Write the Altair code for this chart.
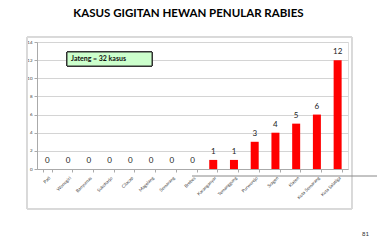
import altair as alt
import pandas as pd

categories = ["Pati", "Wonogiri", "Banyumas", "Sukoharjo", "Cilacap", "Magelang",
              "Semarang", "Brebes", "Karanganyar", "Temanggung", "Purworejo",
              "Sragen", "Klaten", "Kota Semarang", "Kota Salatiga"]
values = [0, 0, 0, 0, 0, 0, 0, 0, 1, 1, 3, 4, 5, 6, 12]
y_ticks = [0, 2, 4, 6, 8, 10, 12, 14]
title_text = "KASUS GIGITAN HEWAN PENULAR RABIES"
box_text = "Jateng = 32 kasus"
page_number = "81"

df = pd.DataFrame({"kab": categories, "kasus": values})
FONT = "Lato"

xscale = alt.Scale(paddingInner=0.6, paddingOuter=0.3)
yscale = alt.Scale(domain=[0, 14], nice=False, zero=True)

xaxis = alt.Axis(labelAngle=-45, labelFontSize=4.5, labelColor="#444",
                 labelFont=FONT, tickBand="extent", tickSize=3,
                 tickColor="#aaa", domainColor="#aaa", labelPadding=3,
                 labelOverlap=False)
yaxis = alt.Axis(values=y_ticks, tickCount=8, labelFontSize=4.5,
                 labelColor="#444", labelFont=FONT, tickSize=3,
                 tickColor="#aaa", domainColor="#aaa",
                 gridColor="#d4d4d4", labelPadding=2,
                 labelOverlap=False, labelBound=False)

xenc = alt.X("kab:N", sort=categories, title=None, scale=xscale, axis=xaxis)
yenc = alt.Y("kasus:Q", title=None, scale=yscale, axis=yaxis)

base = alt.Chart(df)

frame = base.mark_rect(fillOpacity=0, stroke="#d9d9d9", strokeWidth=1).encode(
    x=alt.value(-10), x2=alt.value(315), y=alt.value(-5), y2=alt.value(167))

bars = base.mark_bar(color="#ff0000", size=8).encode(x=xenc, y=yenc)

labels = base.mark_text(dy=-4, fontSize=8, font=FONT, color="#222",
                        baseline="bottom").encode(
    x=xenc, y=yenc, text=alt.Text("kasus:Q"))

box = base.mark_rect(fill="#ccffcc", stroke="#333333", strokeWidth=1).encode(
    x=alt.value(30), x2=alt.value(115), y=alt.value(10), y2=alt.value(24))

box_label = alt.Chart(pd.DataFrame({"t": [box_text]})).mark_text(
    fontSize=7, fontWeight="bold", font=FONT, align="left", baseline="middle",
    color="#111").encode(x=alt.value(34), y=alt.value(17), text="t:N")

stray = alt.Chart(pd.DataFrame({"a": [0]})).mark_rule(color="#888", strokeWidth=1).encode(
    x=alt.value(155), x2=alt.value(345), y=alt.value(134))

page = alt.Chart(pd.DataFrame({"t": [page_number]})).mark_text(
    fontSize=6, font=FONT, color="#333", align="left", baseline="middle").encode(
    x=alt.value(325), y=alt.value(192), text="t:N")

chart = alt.layer(frame, bars, labels, box, box_label, stray, page).properties(
    width=311, height=127,
    title=alt.TitleParams(title_text, fontSize=11.5, font=FONT, fontWeight="bold",
                          color="#000", anchor="middle", offset=17, dx=-4),
    autosize=alt.AutoSizeParams(type="none"),
    padding={"left": 37, "top": 42, "right": 29, "bottom": 71},
).configure_view(stroke=None).configure(background="white")

chart.save("out.html", embed_options={"renderer": "svg", "actions": False})
